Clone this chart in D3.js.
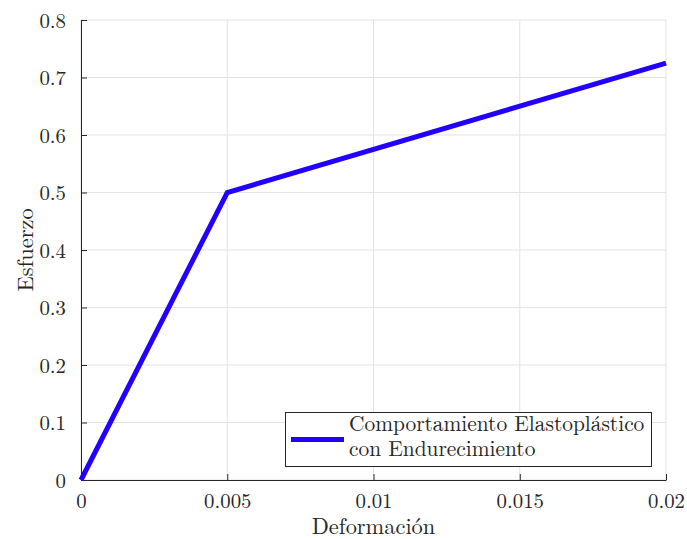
<!DOCTYPE html>
<html>
<head>
<meta charset="utf-8">
<script src="https://cdn.jsdelivr.net/npm/d3@7"></script>
<style>
  html, body { margin: 0; padding: 0; background: #fff; }
  svg { display: block; }
  text { font-family: "Latin Modern Roman", "Liberation Serif", "DejaVu Serif", serif; fill: #262626; }
</style>
</head>
<body>
<svg id="chart" width="687" height="539"></svg>
<script>
// Stress–strain curve: elastoplastic behaviour with hardening
const strain = [0, 0.005, 0.02];
const stress = [0, 0.5, 0.725];
const xTicks = [0, 0.005, 0.01, 0.015, 0.02];
const yTicks = [0, 0.1, 0.2, 0.3, 0.4, 0.5, 0.6, 0.7, 0.8];
const xTickLabels = ["0", "0.005", "0.01", "0.015", "0.02"];
const yTickLabels = ["0", "0.1", "0.2", "0.3", "0.4", "0.5", "0.6", "0.7", "0.8"];
const legendLines = ["Comportamiento Elastoplástico", "con Endurecimiento"];

const svg = d3.select("#chart");
const m = { left: 81, top: 20, right: 666, bottom: 480 };
const x = d3.scaleLinear().domain([0, 0.02]).range([m.left, m.right]);
const y = d3.scaleLinear().domain([0, 0.8]).range([m.bottom, m.top]);
const axisColor = "#262626";
const gridColor = "#e3e3e3";
const fontStack = '"Latin Modern Roman", "Liberation Serif", "DejaVu Serif", serif';

// grid
const grid = svg.append("g");
grid.selectAll("line.gx").data(xTicks).join("line")
  .attr("x1", d => x(d)).attr("x2", d => x(d))
  .attr("y1", m.top).attr("y2", m.bottom)
  .attr("stroke", gridColor).attr("stroke-width", 1);
grid.selectAll("line.gy").data(yTicks).join("line")
  .attr("y1", d => y(d)).attr("y2", d => y(d))
  .attr("x1", m.left).attr("x2", m.right)
  .attr("stroke", gridColor).attr("stroke-width", 1);

// axes with inward ticks
const fs = 20.8;
const xAxis = d3.axisBottom(x).tickValues(xTicks)
  .tickFormat((d, i) => xTickLabels[i]).tickSizeInner(-6).tickSizeOuter(0).tickPadding(13);
const yAxis = d3.axisLeft(y).tickValues(yTicks)
  .tickFormat((d, i) => yTickLabels[i]).tickSizeInner(-6).tickSizeOuter(0).tickPadding(15);

const gx = svg.append("g").attr("transform", `translate(0,${m.bottom})`).call(xAxis);
const gy = svg.append("g").attr("transform", `translate(${m.left},0)`).call(yAxis);
[gx, gy].forEach(g => {
  g.select(".domain").attr("stroke", axisColor).attr("stroke-width", 1);
  g.selectAll(".tick line").attr("stroke", axisColor).attr("stroke-width", 1);
  g.selectAll(".tick text").attr("font-size", fs).attr("fill", axisColor)
    .style("font-family", fontStack);
});
gx.selectAll(".tick text").attr("dy", "0.71em");
gy.selectAll(".tick text").attr("dy", "0.34em");

// axis titles
svg.append("text").attr("x", (m.left + m.right) / 2).attr("y", 534)
  .attr("text-anchor", "middle").attr("font-size", 22.4).text("Deformación");
svg.append("text").attr("transform", `translate(33,${(m.top + m.bottom) / 2}) rotate(-90)`)
  .attr("text-anchor", "middle").attr("font-size", 22.4).text("Esfuerzo");

// curve
const line = d3.line().x((d, i) => x(strain[i])).y(d => y(d));
svg.append("path").datum(stress).attr("d", line)
  .attr("fill", "none").attr("stroke", "#2200ff").attr("stroke-width", 5)
  .attr("stroke-linejoin", "miter");

// legend
const lg = svg.append("g");
lg.append("rect").attr("x", 285.5).attr("y", 412.5).attr("width", 366).attr("height", 54)
  .attr("fill", "#fff").attr("stroke", axisColor).attr("stroke-width", 1);
lg.append("line").attr("x1", 291).attr("x2", 344).attr("y1", 439.5).attr("y2", 439.5)
  .attr("stroke", "#2200ff").attr("stroke-width", 5);
lg.selectAll("text.l").data(legendLines).join("text")
  .attr("x", 349).attr("y", (d, i) => 431 + i * 24.5)
  .attr("font-size", 21.4).text(d => d);
</script>
</body>
</html>
